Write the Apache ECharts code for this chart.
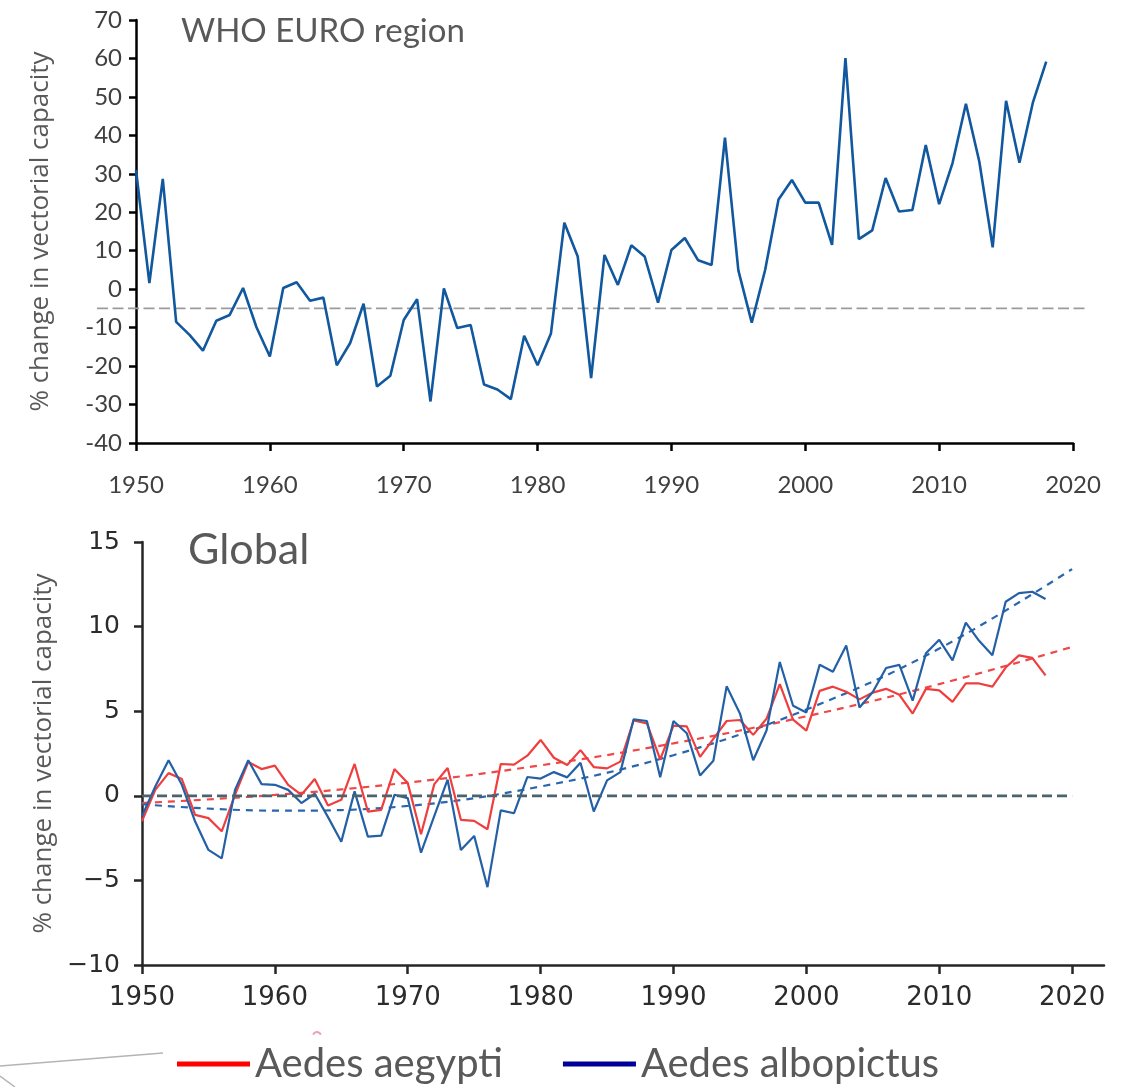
<!DOCTYPE html>
<html>
<head>
<meta charset="utf-8">
<script src="https://cdn.jsdelivr.net/npm/echarts@6/dist/echarts.min.js"></script>
<style>
  html, body { margin: 0; padding: 0; background: #ffffff; }
  #chart { width: 1132px; height: 1087px; }
</style>
</head>
<body>
<div id="chart"></div>
<script>
// ---- data -------------------------------------------------------------
const firstYear = 1950;

// WHO EURO region, % change in vectorial capacity, 1950-2018
const euroValues = [
  31, 1.6, 28.7, -8.5, -11.9, -16, -8.2, -6.7, 0.3, -9.9,
  -17.5, 0.3, 1.8, -3, -2.2, -19.8, -14, -3.8, -25.3, -22.5,
  -8, -2.6, -29.2, 0.2, -10.1, -9.3, -24.8, -26.1, -28.6, -12.1,
  -19.8, -11.5, 17.3, 8.5, -23.1, 8.9, 1.1, 11.4, 8.5, -3.5,
  10.2, 13.3, 7.5, 6.3, 39.4, 4.9, -8.7, 5, 23.3, 28.4,
  22.5, 22.5, 11.5, 60.1, 13, 15.3, 28.9, 20.2, 20.6, 37.5,
  22.1, 32.8, 48.2, 33.2, 10.9, 49, 32.9, 48.5, 59.2
];
// reference level drawn across the EURO panel, and the years it spans
const euroRefLevel = -5;
const euroRefSpan = [1947.1, 2021.1];

// Global, Aedes aegypti, 1950-2018
const aegyptiValues = [
  -1.5, 0.35, 1.34, 0.99, -1.13, -1.32, -2.1, 0.06, 2.0, 1.58,
  1.78, 0.65, 0.06, 0.99, -0.57, -0.24, 1.88, -0.93, -0.83, 1.58,
  0.75, -2.27, 0.69, 1.64, -1.42, -1.48, -1.98, 1.88, 1.84, 2.37,
  3.3, 2.25, 1.82, 2.7, 1.7, 1.62, 2.02, 4.45, 4.28, 2.15,
  4.15, 4.1, 2.3, 3.36, 4.42, 4.48, 3.6, 4.55, 6.6, 4.5,
  3.85, 6.2, 6.45, 6.15, 5.7, 6.1, 6.32, 5.97, 4.86, 6.32,
  6.23, 5.55, 6.64, 6.64, 6.45, 7.58, 8.3, 8.15, 7.12
];
// Global, Aedes albopictus, 1950-2018
const albopictusValues = [
  -1.2, 0.55, 2.1, 0.65, -1.52, -3.2, -3.7, 0.35, 2.1, 0.69,
  0.65, 0.35, -0.43, 0.12, -1.26, -2.71, 0.26, -2.41, -2.35, 0.06,
  -0.14, -3.36, -1.19, 0.95, -3.2, -2.37, -5.4, -0.86, -1.03, 1.11,
  1.02, 1.4, 1.09, 1.95, -0.93, 0.91, 1.4, 4.52, 4.42, 1.1,
  4.42, 3.7, 1.2, 2.07, 6.47, 4.87, 2.1, 3.86, 7.91, 5.32,
  4.92, 7.74, 7.33, 8.89, 5.22, 6.13, 7.55, 7.74, 5.62, 8.42,
  9.22, 8.0, 10.24, 9.16, 8.31, 11.47, 11.98, 12.06, 11.63
];

// fitted trend curves, read at each decade 1950-2020
const trendYears = [1950, 1960, 1970, 1980, 1990, 2000, 2010, 2020];
const aegyptiTrend = [-0.43, 0.05, 0.78, 1.8, 3.1, 4.7, 6.6, 8.8];
const albopictusTrend = [-0.5, -0.88, -0.6, 0.55, 2.4, 5.1, 8.7, 13.4];

// axis ticks
const decadeTicks = [1950, 1960, 1970, 1980, 1990, 2000, 2010, 2020];
const zeroLevel = 0;

// ---- helpers ----------------------------------------------------------
const byYear = vals => vals.map((v, i) => [firstYear + i, v]);
const pair = (xs, ys) => xs.map((x, i) => [x, ys[i]]);
const plain = v => String(v);
const minusSign = v => String(v).replace('-', '\u2212');

const uiFont = 'Lato, "Open Sans", sans-serif';
const nameFont = '"Open Sans", Lato, sans-serif';
const numFont = '"DejaVu Sans", sans-serif';

const chart = echarts.init(document.getElementById('chart'), null, { renderer: 'canvas' });

const option = {
  backgroundColor: '#ffffff',
  animation: false,
  title: [
    {
      text: 'WHO EURO region', left: 176, top: 10,
      textStyle: { fontFamily: uiFont, fontSize: 33, fontWeight: 'normal', color: '#595959' }
    },
    {
      text: 'Global', left: 183, top: 524,
      textStyle: { fontFamily: uiFont, fontSize: 43, fontWeight: 'normal', color: '#595959' }
    }
  ],
  legend: {
    left: 172, top: 1039,
    icon: 'rect', itemWidth: 73, itemHeight: 5, itemGap: 60,
    textStyle: { fontFamily: uiFont, fontSize: 40, color: '#595959' },
    data: [
      { name: 'Aedes aegypti', itemStyle: { color: '#ff0000' } },
      { name: 'Aedes albopictus', itemStyle: { color: '#000099' } }
    ]
  },
  grid: [
    { left: 136, top: 20, width: 937, height: 423 },
    { left: 97, top: 20, width: 991, height: 423 },
    { left: 142, top: 542, width: 962, height: 423 }
  ],
  xAxis: [
    {
      gridIndex: 0, type: 'value', min: 1950, max: 2020, interval: 10,
      axisLine: { show: true, onZero: false, lineStyle: { color: '#000000', width: 2.5 } },
      axisTick: { show: true, length: 8, lineStyle: { color: '#000000', width: 2.5 } },
      axisLabel: { margin: 30, formatter: plain, fontFamily: uiFont, fontSize: 24, color: '#404040' },
      splitLine: { show: false }
    },
    {
      gridIndex: 1, type: 'value', min: euroRefSpan[0], max: euroRefSpan[1], show: false
    },
    {
      gridIndex: 2, type: 'value', min: 1950, max: 2022.4, interval: 10,
      axisLine: { show: true, onZero: false, lineStyle: { color: '#262626', width: 2.5 } },
      axisTick: { show: true, length: 9, customValues: decadeTicks, lineStyle: { color: '#262626', width: 2.5 } },
      axisLabel: { margin: 20, customValues: decadeTicks, formatter: plain, fontFamily: numFont, fontSize: 26, color: '#2b2b2b' },
      splitLine: { show: false }
    }
  ],
  yAxis: [
    {
      gridIndex: 0, type: 'value', min: -40, max: 70, interval: 10,
      axisLine: { show: true, onZero: false, lineStyle: { color: '#000000', width: 2.5 } },
      axisTick: { show: true, length: 7, lineStyle: { color: '#000000', width: 2.5 } },
      axisLabel: { margin: 14, fontFamily: uiFont, fontSize: 24, color: '#404040' },
      splitLine: { show: false },
      name: '% change in vectorial capacity', nameLocation: 'middle', nameGap: 82,
      nameTextStyle: { fontFamily: nameFont, fontSize: 26, color: '#595959' }
    },
    {
      gridIndex: 1, type: 'value', min: -40, max: 70, show: false
    },
    {
      gridIndex: 2, type: 'value', min: -10, max: 15, interval: 5,
      axisLine: { show: true, onZero: false, lineStyle: { color: '#262626', width: 2.5 } },
      axisTick: { show: true, length: 8, lineStyle: { color: '#262626', width: 2.5 } },
      axisLabel: { margin: 22, formatter: minusSign, fontFamily: numFont, fontSize: 25, color: '#2b2b2b' },
      splitLine: { show: false },
      name: '% change in vectorial capacity', nameLocation: 'middle', nameGap: 82,
      nameTextStyle: { fontFamily: nameFont, fontSize: 26, color: '#595959' }
    }
  ],
  series: [
    {
      name: 'EURO reference', type: 'line', xAxisIndex: 1, yAxisIndex: 1,
      data: pair(euroRefSpan, [euroRefLevel, euroRefLevel]),
      symbol: 'none', silent: true,
      lineStyle: { color: '#9b9b9b', width: 1.8, type: [11, 4.5] }, z: 1
    },
    {
      name: 'WHO EURO region', type: 'line', xAxisIndex: 0, yAxisIndex: 0,
      data: byYear(euroValues), symbol: 'none',
      lineStyle: { color: '#11589f', width: 2.6 }, z: 3
    },
    {
      name: 'aegypti trend', type: 'line', xAxisIndex: 2, yAxisIndex: 2,
      data: pair(trendYears, aegyptiTrend), symbol: 'none', smooth: 0.4, silent: true,
      lineStyle: { color: '#f04848', width: 2.2, type: [7, 6] }, z: 2
    },
    {
      name: 'albopictus trend', type: 'line', xAxisIndex: 2, yAxisIndex: 2,
      data: pair(trendYears, albopictusTrend), symbol: 'none', smooth: 0.4, silent: true,
      lineStyle: { color: '#2a66ae', width: 2.2, type: [7, 6] }, z: 2
    },
    {
      name: 'Aedes aegypti', type: 'line', xAxisIndex: 2, yAxisIndex: 2,
      data: byYear(aegyptiValues), symbol: 'none',
      lineStyle: { color: '#ef3e3e', width: 2.2 }, z: 3
    },
    {
      name: 'Aedes albopictus', type: 'line', xAxisIndex: 2, yAxisIndex: 2,
      data: byYear(albopictusValues), symbol: 'none',
      lineStyle: { color: '#2360a6', width: 2.2 }, z: 4
    },
    {
      name: 'zero', type: 'line', xAxisIndex: 2, yAxisIndex: 2,
      data: pair([decadeTicks[0], decadeTicks[decadeTicks.length - 1]], [zeroLevel, zeroLevel]),
      symbol: 'none', silent: true,
      lineStyle: { color: '#4b636c', width: 2.8, type: [10, 5] }, z: 5
    }
  ],
  graphic: [
    // stray connector strokes at the lower-left corner of the figure
    { type: 'line', shape: { x1: 0, y1: 1066, x2: 163, y2: 1053 }, style: { stroke: '#b4b4b4', lineWidth: 1.5 } },
    { type: 'line', shape: { x1: 0, y1: 1076, x2: 15, y2: 1087 }, style: { stroke: '#b4b4b4', lineWidth: 1.5 } },
    { type: 'arc', shape: { cx: 317, cy: 1036, r: 4, startAngle: Math.PI * 1.1, endAngle: Math.PI * 1.9 }, style: { stroke: '#e06080', lineWidth: 2, fill: null, opacity: 0.6 } }
  ]
};

chart.setOption(option);
</script>
</body>
</html>
